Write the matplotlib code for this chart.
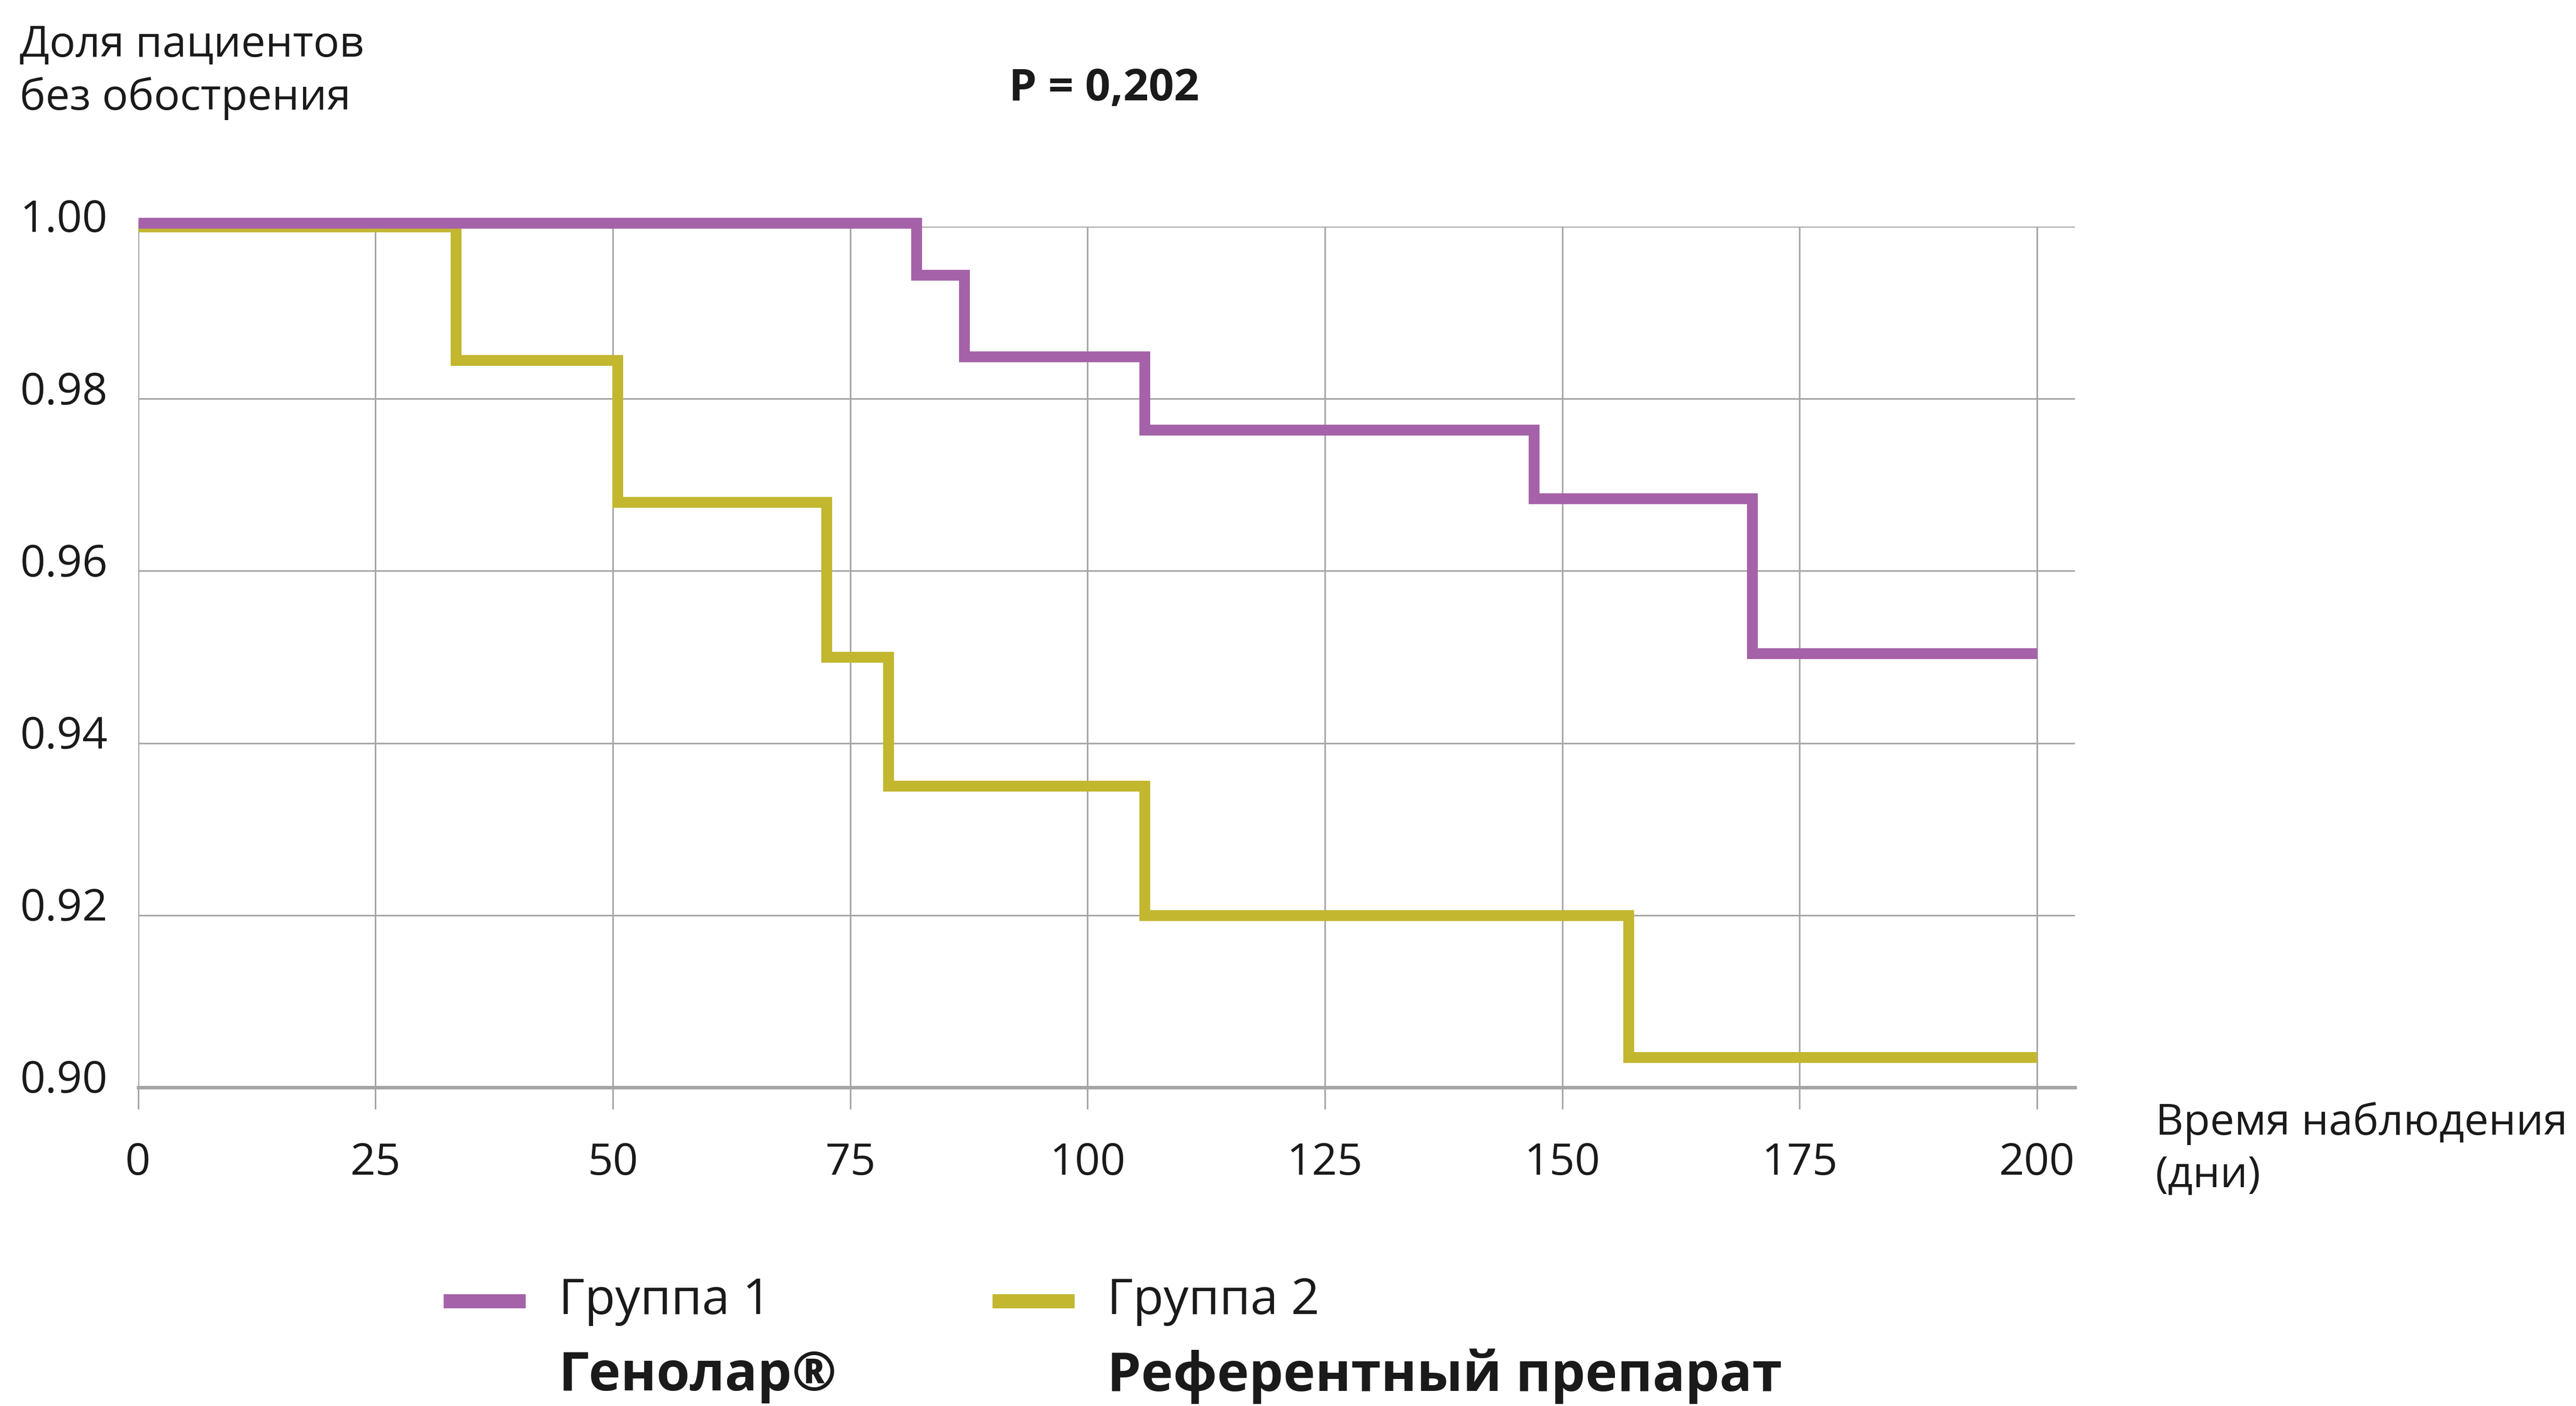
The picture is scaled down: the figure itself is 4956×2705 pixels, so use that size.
import matplotlib
matplotlib.use("Agg")
import matplotlib.pyplot as plt
import matplotlib.transforms as mtransforms

plt.rcParams["font.family"] = ["Open Sans", "DejaVu Sans"]

# Kaplan-Meier steps (time in days, share without exacerbation)
group1_days = [0, 82, 87, 106, 147, 170, 200]
group1_surv = [1.000, 0.994, 0.9845, 0.976, 0.968, 0.950, 0.950]

group2_days = [0, 33.5, 50.5, 72.5, 79, 106, 157, 200]
group2_surv = [1.000, 0.9845, 0.968, 0.950, 0.935, 0.920, 0.9035, 0.9035]

x_ticks = [0, 25, 50, 75, 100, 125, 150, 175, 200]
y_ticks = [0.90, 0.92, 0.94, 0.96, 0.98, 1.00]

purple = "#a562a8"
olive = "#c2b72f"
grid_grey = "#a4a4a4"
text_col = "#1a1a1a"

W, H = 1568, 856
fig = plt.figure(figsize=(4956 / 300, 2705 / 300), dpi=300)
ax = fig.add_axes([84 / W, 1 - 662 / H, (1263 - 84) / W, (662 - 138) / H])

ax.set_xlim(0, 204)
ax.set_ylim(0.90, 1.00)
ax.set_xticks(x_ticks)
ax.set_yticks(y_ticks)
ax.set_yticklabels([f"{v:.2f}" for v in y_ticks])
ax.grid(True, color=grid_grey, lw=0.7)
ax.set_axisbelow(True)

for side in ("top", "right", "left"):
    ax.spines[side].set_visible(False)
ax.spines["bottom"].set_color(grid_grey)
ax.spines["bottom"].set_linewidth(1.6)

ax.tick_params(axis="x", direction="out", length=10, width=0.7,
               color=grid_grey, labelsize=20.5, pad=15, labelcolor=text_col)
ax.tick_params(axis="y", length=0, labelsize=20.5, pad=14, labelcolor=text_col)

# y labels sit a little above their grid lines
lift = mtransforms.ScaledTranslation(0, 0.072, fig.dpi_scale_trans)
for lbl in ax.get_yticklabels():
    lbl.set_transform(lbl.get_transform() + lift)

line_kw = dict(where="post", lw=5, solid_joinstyle="miter",
               solid_capstyle="butt", clip_on=False)
ax.step(group2_days, group2_surv, color=olive, zorder=3, **line_kw)
# nudge group 1 upward a little so both curves stay visible at 1.00
up = mtransforms.offset_copy(ax.transData, fig=fig, x=0, y=1.6, units="points")
ax.step(group1_days, group1_surv, color=purple, zorder=4, transform=up, **line_kw)

# axis captions
fig.text(12 / W, 1 - 44 / H, "Доля пациентов\nбез обострения", fontsize=20,
         color=text_col, ha="left", va="center", linespacing=1.3)
fig.text(672 / W, 1 - 54 / H, "P = 0,202", fontsize=20.5, fontweight="bold",
         color=text_col, ha="center", va="center")
fig.text(1312 / W, 1 - 700 / H, "Время наблюдения\n(дни)", fontsize=20,
         color=text_col, ha="left", va="center", linespacing=1.3)

# legend
legend_items = [
    (270, purple, "Группа 1", "Генолар®"),
    (604, olive, "Группа 2", "Референтный препарат"),
]
for x0, col, name, drug in legend_items:
    fig.add_artist(plt.Line2D([x0 / W, (x0 + 50) / W], [1 - 792 / H] * 2,
                              color=col, lw=6.5, solid_capstyle="butt",
                              transform=fig.transFigure))
    fig.text((x0 + 70) / W, 1 - 792 / H, name, fontsize=23, color=text_col,
             ha="left", va="center")
    fig.text((x0 + 70) / W, 1 - 838 / H, drug, fontsize=25, fontweight="bold",
             color=text_col, ha="left", va="center")

fig.savefig("out.png", dpi=300, facecolor="white")
